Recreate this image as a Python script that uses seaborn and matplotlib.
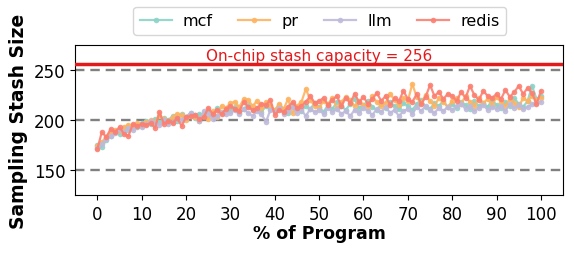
import matplotlib
matplotlib.use("Agg")
import matplotlib.pyplot as plt
import seaborn as sns
import pandas as pd
import numpy as np

# Percent of program (x axis), one sample per percent
progress = list(range(0, 101))

mcf = [175, 173, 180, 184, 189, 186, 192, 190, 195, 193,
       197, 199, 196, 201, 198, 202, 200, 204, 199, 206,
       203, 207, 202, 206, 204, 209, 205, 212, 207, 210,
       209, 213, 207, 211, 215, 210, 212, 208, 214, 211,
       209, 215, 211, 207, 216, 212, 209, 214, 211, 217,
       213, 208, 215, 211, 218, 214, 210, 216, 221, 212,
       215, 219, 213, 210, 216, 212, 218, 214, 211, 217,
       214, 210, 216, 220, 213, 211, 217, 214, 219, 213,
       216, 212, 218, 215, 211, 219, 214, 217, 213, 220,
       215, 212, 218, 214, 222, 216, 213, 219, 234, 221,
       224]

pr = [174, 178, 183, 187, 190, 189, 193, 195, 192, 197,
      194, 198, 200, 198, 204, 201, 198, 203, 206, 205,
      200, 204, 203, 199, 207, 201, 209, 203, 214, 212,
      217, 218, 213, 221, 220, 214, 219, 212, 218, 215,
      210, 216, 211, 221, 207, 214, 218, 231, 220, 214,
      212, 219, 216, 222, 212, 218, 223, 220, 214, 219,
      215, 213, 224, 218, 214, 217, 226, 220, 215, 222,
      219, 236, 223, 217, 225, 219, 214, 222, 218, 213,
      219, 222, 216, 224, 218, 214, 222, 217, 221, 215,
      223, 218, 214, 221, 217, 213, 222, 219, 224, 220,
      222]

llm = [172, 176, 181, 184, 187, 190, 188, 192, 190, 194,
       193, 196, 199, 197, 195, 200, 196, 198, 202, 200,
       203, 207, 205, 199, 209, 206, 201, 204, 208, 206,
       207, 210, 206, 211, 207, 204, 209, 206, 198, 210,
       208, 212, 206, 209, 213, 207, 210, 204, 211, 208,
       210, 206, 212, 208, 211, 206, 209, 204, 210, 207,
       212, 209, 205, 211, 208, 213, 207, 210, 204, 209,
       211, 206, 213, 209, 214, 210, 207, 212, 209, 213,
       210, 214, 216, 211, 214, 209, 212, 215, 210, 213,
       211, 214, 209, 216, 212, 215, 211, 213, 216, 217,
       218]

redis = [171, 188, 183, 191, 188, 193, 186, 184, 196, 194,
         196, 195, 197, 192, 208, 196, 199, 197, 202, 194,
         203, 204, 205, 201, 203, 212, 206, 210, 206, 211,
         214, 211, 209, 218, 213, 210, 212, 216, 215, 220,
         205, 210, 208, 213, 218, 212, 214, 218, 224, 217,
         219, 222, 215, 220, 224, 214, 222, 217, 226, 218,
         223, 216, 221, 227, 219, 224, 215, 222, 219, 229,
         221, 218, 226, 216, 223, 235, 224, 228, 221, 226,
         224, 219, 228, 222, 234, 225, 220, 229, 224, 222,
         226, 221, 230, 223, 228, 234, 226, 232, 227, 216,
         229]

workloads = ["mcf", "pr", "llm", "redis"]
colors = ["#8dd3c7", "#fdb462", "#bebada", "#fb8072"]
capacity = 256

df = pd.DataFrame({
    "progress": progress * 4,
    "size": mcf + pr + llm + redis,
    "workload": np.repeat(workloads, len(progress)),
})

fig = plt.figure(figsize=(5.74, 2.55), dpi=100)
ax = fig.add_axes([0.131, 0.231, 0.850, 0.589])

sns.lineplot(data=df, x="progress", y="size", hue="workload",
             hue_order=workloads, palette=colors, marker="o",
             markersize=4, markeredgewidth=0, linewidth=1.6,
             alpha=0.9, ax=ax, legend=True)

ax.axhline(capacity, color="#e31a1c", linewidth=2.5, zorder=5)
ax.text(50, capacity + 1, "On-chip stash capacity = 256", color="#e31a1c",
        ha="center", va="bottom", fontsize=11)

# dashed horizontal guides
for y in [150, 200, 250]:
    ax.axhline(y, color="gray", linestyle=(0, (4, 2.5)), linewidth=1.7, zorder=0)

ax.set_xlim(-5, 105)
ax.set_ylim(125, 275)
ax.set_xticks(range(0, 101, 10))
ax.set_yticks([150, 200, 250])
ax.tick_params(labelsize=12)
ax.set_xlabel("% of Program", fontsize=12.5, fontweight="bold", labelpad=1)
ax.set_ylabel("Sampling Stash Size", fontsize=13.5, fontweight="bold")

handles, labels = ax.get_legend_handles_labels()
ax.legend_.remove()
fig.legend(handles, labels, loc="center", bbox_to_anchor=(0.557, 0.915),
           ncol=4, fontsize=11.5, handlelength=2.0, handletextpad=0.7,
           columnspacing=1.6, frameon=True)

fig.savefig("out.png", dpi=100)
